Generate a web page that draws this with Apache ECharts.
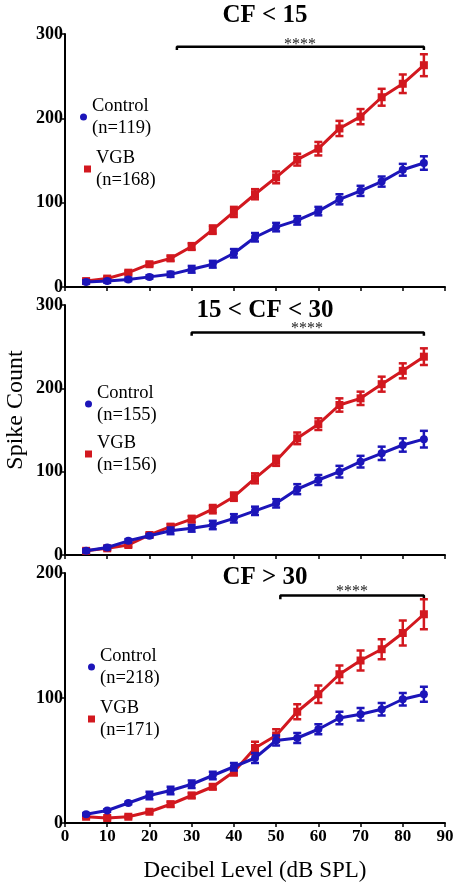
<!DOCTYPE html>
<html>
<head>
<meta charset="utf-8">
<script src="https://cdn.jsdelivr.net/npm/echarts@6/dist/echarts.min.js"></script>
<style>
html,body{margin:0;padding:0;background:#fff;}
#chart{width:460px;height:892px;}
</style>
</head>
<body>
<div id="chart"></div>
<script>
// ---- data ----
const levels = [5,10,15,20,25,30,35,40,45,50,55,60,65,70,75,80,85];

const titles = ['CF < 15', '15 < CF < 30', 'CF > 30'];
const controlNames = ['Control\n(n=119)', 'Control\n(n=155)', 'Control\n(n=218)'];
const vgbNames = ['VGB\n(n=168)', 'VGB\n(n=156)', 'VGB\n(n=171)'];
const yMax = [300, 300, 200];
const yTicks = [100, 100, 100];

// CF < 15
const ctrl1 = [6,7,9,12,15,21,27,40,59,71,79,90,104,114,125,139,147];
const ctrl1Err = [2,2,2,2,3,4,4,5,5,5,5,5,6,6,6,7,8];
const vgb1 = [7,10,17,27,34,48,68,89,110,130,151,164,188,202,225,241,263];
const vgb1Err = [2,2,2,2,3,4,5,6,6,7,7,8,9,9,10,11,13];

// 15 < CF < 30
const ctrl2 = [5,9,17,23,29,32,36,44,53,62,79,90,100,112,122,132,139];
const ctrl2Err = [2,2,2,2,4,4,5,5,5,5,6,6,7,7,8,8,10];
const vgb2 = [5,8,12,24,34,43,55,70,92,113,140,157,180,188,205,221,238];
const vgb2Err = [2,2,2,2,3,4,5,5,6,6,7,7,8,8,9,9,10];

// CF > 30
const ctrl3 = [7,10,16,22,26,31,38,45,52,66,68,75,84,87,91,99,103];
const ctrl3Err = [1,1,1,3,3,3,3,3,4,4,4,4,5,5,5,5,6];
const vgb3 = [5,4,5,9,15,22,29,41,60,70,89,103,119,130,139,152,167];
const vgb3Err = [1,1,1,1,2,2,2,3,5,5,6,7,7,8,8,10,12];

// significance brackets: [startLevel, endLevel, yValue, tickDepth]
const bracket1 = [26.5, 85, 285, 4];
const bracket2 = [30, 85, 267, 4];
const bracket3 = [51, 85, 182, 3];
const sigText = '****';

// ---- chart ----
const BLUE = '#1c15b9';
const RED = '#d2181f';
const SERIF = '"Liberation Serif", "Times New Roman", serif';

const grids = [
  {left: 65, width: 380, top: 34, height: 253},
  {left: 65, width: 380, top: 305, height: 250},
  {left: 65, width: 380, top: 573, height: 250}
];

const ctrlAll = [ctrl1, ctrl2, ctrl3];
const ctrlErrAll = [ctrl1Err, ctrl2Err, ctrl3Err];
const vgbAll = [vgb1, vgb2, vgb3];
const vgbErrAll = [vgb1Err, vgb2Err, vgb3Err];
const brackets = [bracket1, bracket2, bracket3];

const xAxes = [], yAxes = [], series = [], legends = [];

function errSeries(i, vals, errs, color, z) {
  return {
    type: 'custom', xAxisIndex: i, yAxisIndex: i, z: z, silent: true,
    data: levels.map((x, k) => [x, vals[k], errs[k]]),
    encode: {x: 0, y: 1},
    renderItem: function (params, api) {
      const x = api.value(0), y = api.value(1), e = api.value(2);
      const hi = api.coord([x, y + e]);
      const lo = api.coord([x, y - e]);
      const hw = 4;
      const st = {stroke: color, lineWidth: 2.5, fill: null};
      return {type: 'group', children: [
        {type: 'line', shape: {x1: hi[0], y1: hi[1], x2: lo[0], y2: lo[1]}, style: st},
        {type: 'line', shape: {x1: hi[0]-hw, y1: hi[1], x2: hi[0]+hw, y2: hi[1]}, style: st},
        {type: 'line', shape: {x1: lo[0]-hw, y1: lo[1], x2: lo[0]+hw, y2: lo[1]}, style: st}
      ]};
    }
  };
}

for (let i = 0; i < 3; i++) {
  xAxes.push({
    gridIndex: i, type: 'value', min: 0, max: 90, interval: 10,
    axisLine: {show: true, onZero: false, lineStyle: {color: '#000', width: 2}},
    axisTick: {show: true, length: 4, lineStyle: {color: '#000', width: 1.5}},
    axisLabel: {show: i === 2, color: '#000', fontFamily: SERIF, fontWeight: 'bold', fontSize: 17, margin: 5},
    splitLine: {show: false},
    name: i === 2 ? 'Decibel Level (dB SPL)' : '',
    nameLocation: 'middle', nameGap: 36,
    nameTextStyle: {color: '#000', fontFamily: SERIF, fontSize: 23}
  });
  yAxes.push({
    gridIndex: i, type: 'value', min: 0, max: yMax[i], interval: yTicks[i],
    axisLine: {show: true, lineStyle: {color: '#000', width: 2}},
    axisTick: {show: true, length: 3, lineStyle: {color: '#000', width: 1.5}},
    axisLabel: {color: '#000', fontFamily: SERIF, fontWeight: 'bold', fontSize: 18, margin: 2},
    splitLine: {show: false}
  });

  const b = brackets[i];
  series.push({
    type: 'line', xAxisIndex: i, yAxisIndex: i, silent: true, symbol: 'none', z: 1,
    lineStyle: {color: '#000', width: 2.5},
    data: [[b[0], b[2] - b[3]], [b[0], b[2]], [b[1], b[2]], [b[1], b[2] - b[3]]]
  });

  series.push(errSeries(i, vgbAll[i], vgbErrAll[i], RED, 3));
  series.push({
    name: vgbNames[i], type: 'line', xAxisIndex: i, yAxisIndex: i, z: 4,
    symbol: 'rect', symbolSize: 8, color: RED,
    lineStyle: {color: RED, width: 3}, itemStyle: {color: RED},
    data: levels.map((x, k) => [x, vgbAll[i][k]])
  });
  series.push(errSeries(i, ctrlAll[i], ctrlErrAll[i], BLUE, 5));
  series.push({
    name: controlNames[i], type: 'line', xAxisIndex: i, yAxisIndex: i, z: 6,
    symbol: 'circle', symbolSize: 8, color: BLUE,
    lineStyle: {color: BLUE, width: 3}, itemStyle: {color: BLUE},
    data: levels.map((x, k) => [x, ctrlAll[i][k]])
  });
}

const legendPos = [
  {c: [80, 95], v: [84, 147]},
  {c: [85, 382], v: [85, 432]},
  {c: [88, 645], v: [88, 697]}
];
for (let i = 0; i < 3; i++) {
  const common = {
    orient: 'vertical', itemWidth: 7, itemHeight: 7, itemGap: 4, selectedMode: false,
    textStyle: {color: '#000', fontFamily: SERIF, fontSize: 18.5, lineHeight: 22}, padding: 0
  };
  legends.push(Object.assign({}, common, {left: legendPos[i].c[0], top: legendPos[i].c[1], data: [{name: controlNames[i], icon: 'circle'}]}));
  legends.push(Object.assign({}, common, {left: legendPos[i].v[0], top: legendPos[i].v[1], data: [{name: vgbNames[i], icon: 'rect'}]}));
}

const titleCenters = [16, 311, 578];
const starPos = [[300, 45], [307, 329], [352, 592]];
const titleGraphics = titles.map((t, i) => ({
  type: 'text', x: 265, y: titleCenters[i],
  style: {text: t, fill: '#000', font: 'bold 25px ' + SERIF, align: 'center', verticalAlign: 'middle'}
}));
const starGraphics = starPos.map(p => ({
  type: 'text', x: p[0], y: p[1],
  style: {text: sigText, fill: '#222', font: '16px ' + SERIF, align: 'center', verticalAlign: 'middle'}
}));
const yName = {
  type: 'text', x: 16, y: 410, rotation: Math.PI / 2,
  style: {text: 'Spike Count', fill: '#000', font: '24px ' + SERIF, align: 'center', verticalAlign: 'middle'}
};

const chart = echarts.init(document.getElementById('chart'), null, {renderer: 'canvas'});
chart.setOption({
  backgroundColor: '#fff',
  animation: false,
  grid: grids,
  xAxis: xAxes,
  yAxis: yAxes,
  legend: legends,
  series: series,
  graphic: titleGraphics.concat(starGraphics, [yName])
});
</script>
</body>
</html>
